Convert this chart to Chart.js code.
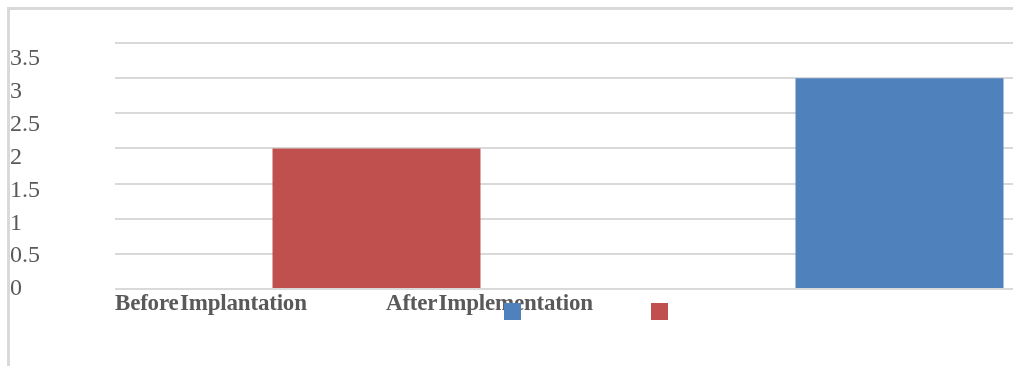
<!DOCTYPE html>
<html>
<head>
<meta charset="utf-8">
<script src="https://cdn.jsdelivr.net/npm/chart.js@4.4.1/dist/chart.umd.min.js"></script>
<style>
    html, body {
        margin: 0;
        padding: 0;
        width: 1013px;
        height: 366px;
        overflow: hidden;
        background: #ffffff;
    }
    #frame {
        position: absolute;
        left: 7px;
        top: 7px;
        width: 1100px;
        height: 400px;
        border-left: 3px solid #d9d9d9;
        border-top: 3px solid #d9d9d9;
    }
    #wrap {
        position: absolute;
        left: 0;
        top: 0;
        width: 1161px;
        height: 366px;
    }
    .cat-label {
        position: absolute;
        top: 290px;
        font: bold 23px "Liberation Serif", "Times New Roman", serif;
        color: #595959;
        letter-spacing: -0.2px;
        word-spacing: -4px;
        white-space: nowrap;
    }
    .legend-box {
        position: absolute;
        top: 303px;
        width: 17px;
        height: 17px;
    }
</style>
</head>
<body>
<div id="frame"></div>
<div id="wrap"><canvas id="chart"></canvas></div>
<div id="overlay"></div>

<script>
// ========== DATA ==========
const categories = ["Before Implantation", "After Implementation"];
const values = [2, 3];
const barColors = ["#C0504D", "#4F81BD"];
const yTicks = [0, 0.5, 1, 1.5, 2, 2.5, 3, 3.5];

// ========== LABELS + LEGEND (loose, as in the source) ==========
const overlay = document.getElementById("overlay");
const labelLefts = [115, 386];
categories.forEach((c, i) => {
    const span = document.createElement("span");
    span.className = "cat-label";
    span.style.left = labelLefts[i] + "px";
    span.textContent = c;
    overlay.appendChild(span);
});

// legend boxes: blue first, then red
const legendLefts = [504, 651];
[1, 0].forEach((idx, i) => {
    const box = document.createElement("span");
    box.className = "legend-box";
    box.style.left = legendLefts[i] + "px";
    box.style.background = barColors[idx];
    overlay.appendChild(box);
});

// ========== CHART ==========
new Chart(document.getElementById("chart"), {
    type: "bar",
    data: {
        labels: categories,
        datasets: [{
            data: values,
            backgroundColor: barColors,
            borderWidth: 0,
            categoryPercentage: 1,
            barPercentage: 0.3977
        }]
    },
    options: {
        responsive: true,
        maintainAspectRatio: false,
        animation: false,
        layout: { padding: { left: 10, top: 43, right: 0, bottom: 0 } },
        plugins: {
            legend: { display: false },
            tooltip: { enabled: false },
            title: { display: false }
        },
        scales: {
            x: {
                ticks: { display: false },
                grid: { display: false },
                border: { display: false },
                afterFit: s => { s.height = 77; }
            },
            y: {
                min: 0,
                max: 3.5,
                ticks: { display: false, stepSize: 0.5 },
                grid: { color: "#d9d9d9", lineWidth: 2, drawTicks: false },
                border: { display: false },
                afterFit: s => { s.width = 0; }
            },
            // tick labels sit on their own, slightly tighter spacing
            yl: {
                position: "left",
                min: 0,
                max: 3.74,
                afterBuildTicks: s => { s.ticks = yTicks.map(v => ({ value: v })); },
                ticks: {
                    color: "#595959",
                    font: { family: "'Liberation Serif', 'Times New Roman', serif", size: 24 },
                    crossAlign: "far",
                    padding: 0,
                    callback: v => String(v)
                },
                grid: { display: false },
                border: { display: false },
                afterFit: s => { s.width = 105; }
            }
        }
    }
});
</script>
</body>
</html>
